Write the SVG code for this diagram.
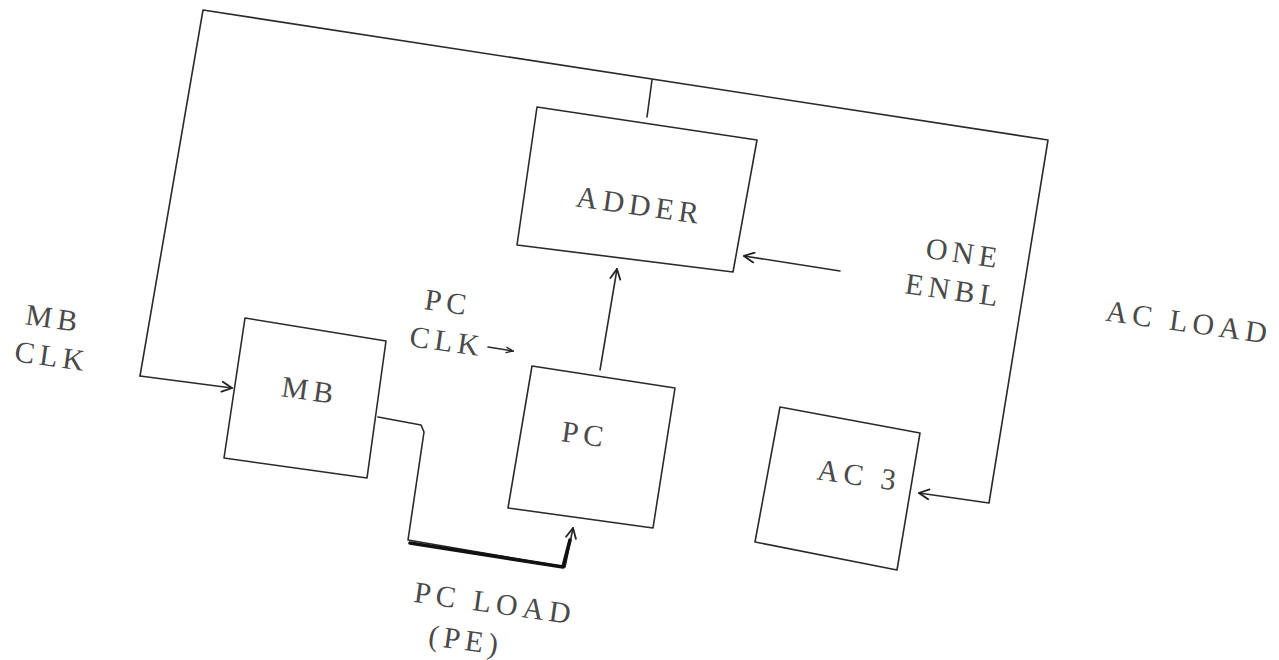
<svg xmlns="http://www.w3.org/2000/svg" width="1279" height="660" viewBox="0 0 1279 660">
<defs>
<style>
.box{fill:none;stroke:#2a2a2a;stroke-width:1.6;stroke-linejoin:round}
.ln{fill:none;stroke:#2a2a2a;stroke-width:1.6;stroke-linejoin:round;stroke-linecap:round}
.thick{fill:none;stroke:#111;stroke-width:3.6;stroke-linecap:round;stroke-linejoin:round}
.t{font-family:"Liberation Serif","DejaVu Serif",serif;font-size:30px;fill:#4a4a4a;letter-spacing:5px;text-anchor:middle}
</style>
<marker id="arr" viewBox="0 0 12 12" refX="11" refY="6" markerWidth="12" markerHeight="12" markerUnits="userSpaceOnUse" orient="auto">
<path d="M1,1 L11,6 L1,11" fill="none" stroke="#222" stroke-width="1.8" stroke-linecap="round"/>
</marker>
<marker id="arrs" viewBox="0 0 12 12" refX="11" refY="6" markerWidth="8" markerHeight="8" markerUnits="userSpaceOnUse" orient="auto">
<path d="M1,2 L11,6 L1,10" fill="none" stroke="#222" stroke-width="2" stroke-linecap="round"/>
</marker>
</defs>
<rect width="1279" height="660" fill="#fff"/>
<g id="connectors">
<path class="ln" d="M140,376 L232,388" marker-end="url(#arr)"/>
<path class="ln" d="M140,376 L203,10 L1048,140 L989,503 L919,493" marker-end="url(#arr)"/>
<path class="ln" d="M652,80 L647,117"/>
<path class="ln" d="M600,370 L617,269" marker-end="url(#arr)"/>
<path class="ln" d="M840,271 L744,256" marker-end="url(#arr)"/>
<path class="ln" d="M488,347 L513,351" marker-end="url(#arrs)"/>
<path class="ln" d="M378,417 L421,425 L424,432 L408,540 L565,567 L573,528" marker-end="url(#arr)"/>
<path class="thick" d="M410,543 L563,567 L570,540"/>
<text class="t" transform="rotate(8 52 318)" x="54" y="328">MB</text>
<text class="t" transform="rotate(8 50 356)" x="52" y="366">CLK</text>
<text class="t" transform="rotate(8 446 302)" x="448" y="312">PC</text>
<text class="t" transform="rotate(8 445 341)" x="447" y="351">CLK</text>
<text class="t" transform="rotate(8 962 253)" x="964" y="263">ONE</text>
<text class="t" transform="rotate(8 952 290)" x="954" y="300">ENBL</text>
<text class="t" transform="rotate(8 1187 322)" x="1189" y="332">AC LOAD</text>
<text class="t" transform="rotate(8 493 603)" x="495" y="613">PC LOAD</text>
<text class="t" transform="rotate(8 464 640)" x="466" y="650">(PE)</text>
</g>
<g id="adder">
<polygon class="box" points="537,107 757,140 733,272 517,245"/>
<text class="t" transform="rotate(8 638 205)" x="640" y="215">ADDER</text>
</g>
<g id="mb">
<polygon class="box" points="245,318 386,341 367,478 224,458"/>
<text class="t" transform="rotate(8 308 390)" x="310" y="400">MB</text>
</g>
<g id="pc">
<polygon class="box" points="532,366 675,388 653,528 508,508"/>
<text class="t" transform="rotate(8 583 434)" x="585" y="444">PC</text>
</g>
<g id="ac3">
<polygon class="box" points="780,407 920,433 897,570 755,542"/>
<text class="t" transform="rotate(8 857 475)" x="859" y="485">AC 3</text>
</g>
</svg>
